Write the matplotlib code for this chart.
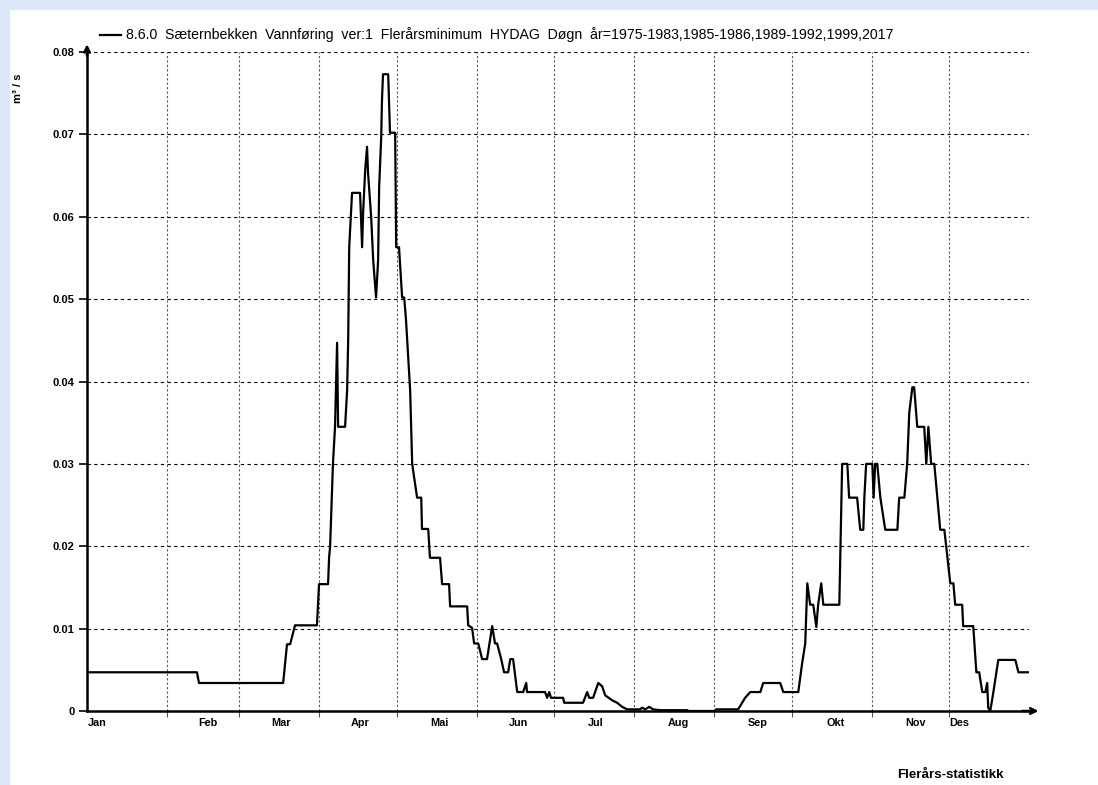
import matplotlib
matplotlib.use("Agg")
import matplotlib.pyplot as plt
from matplotlib.lines import Line2D
from matplotlib.patches import Rectangle

plt.rcParams['font.family'] = ['Liberation Sans', 'DejaVu Sans']

# day of year (0 = 1 Jan) and daily minimum discharge (m3/s)
days = [0, 42.6, 43.4, 76.0, 77.5, 78.7, 80.6, 89.1, 89.9, 93.4, 93.8, 94.2,
        95.3, 96.1, 96.9, 97.3, 100.0, 100.8, 101.2, 101.6, 102.3, 102.7,
        105.8, 106.6, 107.0, 107.8, 108.5, 108.9, 110.1, 110.9, 112.0, 112.8,
        113.2, 114.0, 114.3, 114.7, 116.7, 117.4, 119.4, 119.8, 120.9, 122.1,
        122.9, 123.6, 125.2, 126.0, 127.9, 129.5, 129.8, 132.2, 132.9, 136.8,
        137.6, 140.3, 140.7, 147.3, 147.7, 149.2, 150.0, 151.6, 153.1, 155.0,
        157.0, 158.1, 158.9, 160.5, 161.6, 163.2, 164.0, 165.1, 166.7, 169.0,
        170.2, 170.5, 177.5, 178.3, 179.1, 179.8, 184.5, 184.9, 192.2, 193.8,
        194.6, 196.1, 198.1, 199.6, 200.8, 203.5, 205.4, 207.4, 209.3, 214.3,
        215.1, 216.3, 217.8, 219.4, 222.1, 232.6, 232.9, 243.4, 243.8, 252.3,
        255.0, 257.0, 260.9, 262.0, 268.6, 269.8, 275.6, 277.1, 278.3, 279.1,
        280.2, 281.4, 282.6, 283.3, 284.5, 285.3, 291.5, 292.2, 292.6, 294.6,
        295.3, 298.4, 299.6, 300.8, 301.2, 301.9, 304.3, 304.8, 305.4, 306.2,
        307.4, 309.3, 314.0, 314.7, 316.7, 317.8, 318.6, 319.8, 320.5, 321.7,
        324.4, 325.2, 326.0, 327.1, 328.3, 330.6, 332.2, 334.5, 335.7, 336.4,
        339.1, 339.5, 343.4, 344.6, 345.7, 346.9, 348.1, 348.8, 349.2, 350.0,
        351.2, 353.1, 359.7, 360.9, 364.7]
flow = [0.0047, 0.0047, 0.0034, 0.0034, 0.0081, 0.0081, 0.0104, 0.0104,
        0.0154, 0.0154, 0.0186, 0.0200, 0.0300, 0.0345, 0.0447, 0.0345,
        0.0345, 0.0390, 0.0450, 0.0563, 0.0606, 0.0629, 0.0629, 0.0563,
        0.0606, 0.0657, 0.0685, 0.0653, 0.0600, 0.0547, 0.0502, 0.0547,
        0.0636, 0.0697, 0.0742, 0.0773, 0.0773, 0.0702, 0.0702, 0.0563,
        0.0563, 0.0502, 0.0502, 0.0475, 0.0390, 0.0300, 0.0259, 0.0259,
        0.0221, 0.0221, 0.0186, 0.0186, 0.0154, 0.0154, 0.0127, 0.0127,
        0.0104, 0.0101, 0.0082, 0.0082, 0.0063, 0.0063, 0.0103, 0.0082,
        0.0082, 0.0063, 0.0047, 0.0047, 0.0063, 0.0063, 0.0023, 0.0023,
        0.0034, 0.0023, 0.0023, 0.0016, 0.0023, 0.0016, 0.0016, 0.0010,
        0.0010, 0.0023, 0.0016, 0.0016, 0.0034, 0.0030, 0.0019, 0.0013,
        0.0010, 0.0005, 0.0002, 0.0002, 0.0004, 0.0002, 0.0005, 0.0002,
        0.0001, 0.0001, 0.0, 0.0, 0.0002, 0.0002, 0.0016, 0.0023, 0.0023,
        0.0034, 0.0034, 0.0023, 0.0023, 0.0058, 0.0082, 0.0155, 0.0129,
        0.0129, 0.0102, 0.0129, 0.0155, 0.0129, 0.0129, 0.0240, 0.0300,
        0.0300, 0.0259, 0.0259, 0.0220, 0.0220, 0.0259, 0.0300, 0.0300,
        0.0259, 0.0300, 0.0300, 0.0259, 0.0220, 0.0220, 0.0259, 0.0259,
        0.0300, 0.0362, 0.0393, 0.0393, 0.0345, 0.0345, 0.0300, 0.0345,
        0.0300, 0.0300, 0.0220, 0.0220, 0.0155, 0.0155, 0.0129, 0.0129,
        0.0103, 0.0103, 0.0047, 0.0047, 0.0023, 0.0023, 0.0034, 0.0004,
        0.0, 0.0023, 0.0062, 0.0062, 0.0047, 0.0047]

month_starts = [31, 59, 90, 120, 151, 181, 212, 243, 273, 304, 334]
month_names = ["Jan", "Feb", "Mar", "Apr", "Mai", "Jun", "Jul", "Aug",
               "Sep", "Okt", "Nov", "Des"]
label_days = [0.3, 47, 75, 106, 136.5, 167, 197, 229, 260, 290, 321, 338]
yticks = [0, 0.01, 0.02, 0.03, 0.04, 0.05, 0.06, 0.07, 0.08]
ylabels = ["0", "0.01", "0.02", "0.03", "0.04", "0.05", "0.06", "0.07", "0.08"]

legend_text = ("8.6.0  Sæternbekken  Vannføring  ver:1  Flerårsminimum  HYDAG  "
               "Døgn  år=1975-1983,1985-1986,1989-1992,1999,2017")

W, H = 1098, 785
fig = plt.figure(figsize=(W / 100, H / 100), dpi=100)
fig.patch.set_facecolor("white")

# light blue frame on left and top
fig.patches.append(Rectangle((0, 0), 9 / W, 1, transform=fig.transFigure,
                             color="#dde8fb", zorder=0))
fig.patches.append(Rectangle((0, 1 - 9 / H), 1, 9 / H, transform=fig.transFigure,
                             color="#dde8fb", zorder=0))

ax = fig.add_axes([87 / W, 74 / H, 942 / W, 659 / H])
ax.set_xlim(0, 365)
ax.set_ylim(0, 0.08)

for y in yticks[1:]:
    ax.axhline(y, color="black", lw=0.8, dashes=(3, 3), zorder=1)
for d in month_starts:
    ax.axvline(d, color="#555555", lw=0.8, dashes=(2, 2), zorder=1)

ax.plot(days, flow, color="black", lw=1.6, zorder=3)

for s in ["top", "right"]:
    ax.spines[s].set_visible(False)
for s in ["left", "bottom"]:
    ax.spines[s].set_linewidth(1.8)

ax.set_yticks(yticks)
ax.set_yticklabels(ylabels, fontsize=8, fontweight="bold")
ax.tick_params(axis="y", length=6, width=1.2, pad=3)

ax.set_xticks(month_starts)
ax.set_xticklabels([])
ax.tick_params(axis="x", which="major", length=4, width=0.8, color="#555555")
ax.set_xticks(label_days, minor=True)
ax.set_xticklabels(month_names, minor=True, fontsize=7.8, fontweight="bold")
ax.tick_params(axis="x", which="minor", length=0, pad=5)
ax.get_xticklabels(minor=True)[0].set_ha("left")

# arrow heads on the axes
ax.annotate("", xy=(0, 1.016), xytext=(0, 0.99), xycoords="axes fraction",
            arrowprops=dict(arrowstyle="->", lw=1.8, color="black",
                            mutation_scale=10), annotation_clip=False)
ax.annotate("", xy=(1.013, 0), xytext=(0.99, 0), xycoords="axes fraction",
            arrowprops=dict(arrowstyle="->", lw=1.8, color="black",
                            mutation_scale=10), annotation_clip=False)

fig.text(18 / W, 1 - 88 / H, "m³ / s", rotation=90, fontsize=8,
         fontweight="bold", ha="center", va="center")

fig.add_artist(Line2D([100 / W, 121 / W], [1 - 35 / H, 1 - 35 / H],
                      color="black", lw=1.6, transform=fig.transFigure))
fig.text(126 / W, 1 - 35 / H, legend_text, fontsize=10.2, ha="left", va="center")

fig.text(950 / W, 1 - 775 / H, "Flerårs-statistikk", fontsize=9.6,
         fontweight="bold", ha="center", va="center")

fig.savefig("out.png", dpi=100)
